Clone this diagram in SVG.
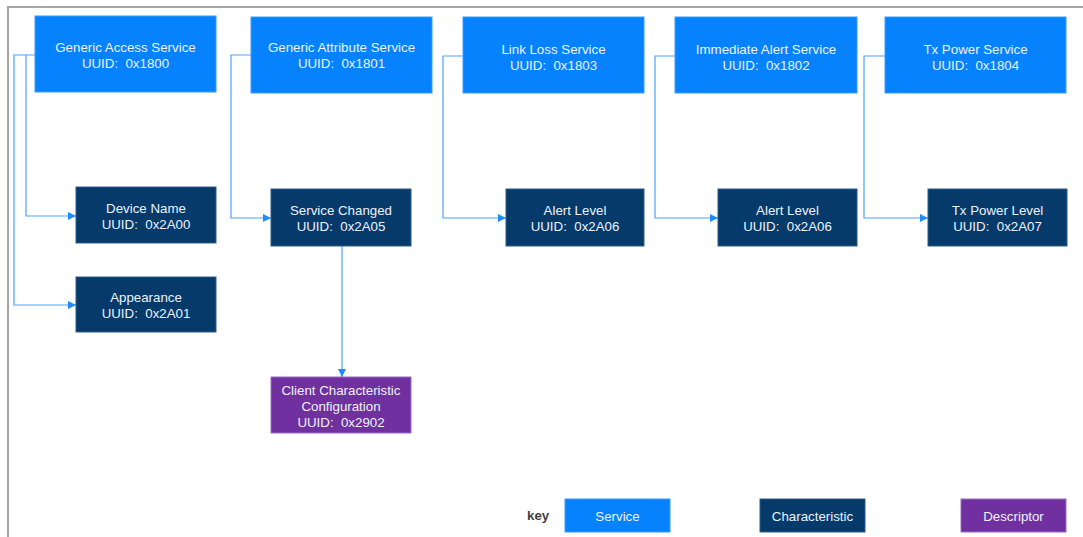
<svg xmlns="http://www.w3.org/2000/svg" width="1083" height="537" viewBox="0 0 1083 537">
<style>
text{font-family:"Liberation Sans",Arial,sans-serif;font-size:13.3px;fill:#eef3fb;text-anchor:middle;white-space:pre}
.svc{fill:#0682ff;stroke:#3d9bff;stroke-width:1}
.chr{fill:#053a6b;stroke:#2e5c88;stroke-width:1}
.dsc{fill:#7030a0;stroke:#9a6cc4;stroke-width:1}
.c{fill:none;stroke:#4aa3ff;stroke-width:1.2}
.key{fill:#404040;font-weight:bold;text-anchor:start}
</style>
<defs>
<marker id="ah" viewBox="0 0 10 10" refX="10" refY="5" markerWidth="8" markerHeight="8" markerUnits="userSpaceOnUse" orient="auto">
<path d="M0,0 L10,5 L0,10 z" fill="#1e8cff"/>
</marker>
</defs>
<rect width="1083" height="537" fill="#ffffff"/>
<path d="M8,537 V7 H1083" fill="none" stroke="#a6a6a6" stroke-width="2"/>
<g id="connectors">
<path class="c" d="M35,55 H14 V305 H76" marker-end="url(#ah)"/>
<path class="c" d="M26,55 V216 H76" marker-end="url(#ah)"/>
<path class="c" d="M251,55 H231 V218 H271" marker-end="url(#ah)"/>
<path class="c" d="M342,246 V377" marker-end="url(#ah)"/>
<path class="c" d="M463,56 H443 V218 H506" marker-end="url(#ah)"/>
<path class="c" d="M675,56 H655 V218 H718" marker-end="url(#ah)"/>
<path class="c" d="M885,56 H864 V218 H928" marker-end="url(#ah)"/>
</g>
<g id="gas"><rect class="svc" x="35" y="16" width="181" height="76"/><text x="125.5" y="51.5">Generic Access Service</text><text x="125.5" y="68">UUID:  0x1800</text></g>
<g id="gatt"><rect class="svc" x="251" y="17" width="181" height="76"/><text x="341.5" y="51.5">Generic Attribute Service</text><text x="341.5" y="68">UUID:  0x1801</text></g>
<g id="lls"><rect class="svc" x="463" y="17" width="181" height="76"/><text x="553.5" y="53.5">Link Loss Service</text><text x="553.5" y="69.5">UUID:  0x1803</text></g>
<g id="ias"><rect class="svc" x="675" y="17" width="182" height="76"/><text x="766" y="53.5">Immediate Alert Service</text><text x="766" y="69.5">UUID:  0x1802</text></g>
<g id="tps"><rect class="svc" x="885" y="17" width="181" height="76"/><text x="975.5" y="53.5">Tx Power Service</text><text x="975.5" y="69.5">UUID:  0x1804</text></g>
<g id="devname"><rect class="chr" x="76" y="187" width="140" height="56"/><text x="146" y="212.5">Device Name</text><text x="146" y="229">UUID:  0x2A00</text></g>
<g id="appearance"><rect class="chr" x="76" y="277" width="140" height="55"/><text x="146" y="302">Appearance</text><text x="146" y="318">UUID:  0x2A01</text></g>
<g id="svcchanged"><rect class="chr" x="271" y="189" width="140" height="57"/><text x="341" y="214.5">Service Changed</text><text x="341" y="231">UUID:  0x2A05</text></g>
<g id="cccd"><rect class="dsc" x="271" y="377" width="140" height="56"/><text x="341" y="394.5">Client Characteristic</text><text x="341" y="410.5">Configuration</text><text x="341" y="426.5">UUID:  0x2902</text></g>
<g id="alert1"><rect class="chr" x="506" y="189" width="138" height="57"/><text x="575" y="214.5">Alert Level</text><text x="575" y="231">UUID:  0x2A06</text></g>
<g id="alert2"><rect class="chr" x="718" y="189" width="139" height="57"/><text x="787.5" y="214.5">Alert Level</text><text x="787.5" y="231">UUID:  0x2A06</text></g>
<g id="txlevel"><rect class="chr" x="928" y="189" width="139" height="57"/><text x="997.5" y="214.5">Tx Power Level</text><text x="997.5" y="231">UUID:  0x2A07</text></g>
<g id="legend">
<text class="key" x="527" y="520">key</text>
<rect class="svc" x="565" y="499" width="105" height="33"/><text x="617.5" y="520.5">Service</text>
<rect class="chr" x="760" y="499" width="105" height="33"/><text x="812.5" y="520.5">Characteristic</text>
<rect class="dsc" x="961" y="499" width="105" height="33"/><text x="1013.5" y="520.5">Descriptor</text>
</g>
</svg>
